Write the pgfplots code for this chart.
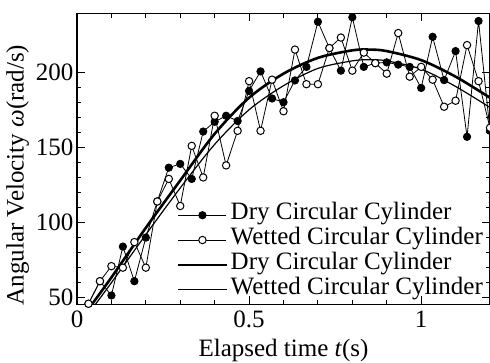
\documentclass[border=0pt]{standalone}
\usepackage{fontspec}
\setmainfont{Liberation Serif}
\usepackage{pgfplots}
\pgfplotsset{compat=1.18}
\newcommand{\bigfont}{\fontsize{25bp}{27bp}\selectfont}
\begin{document}
\begin{tikzpicture}
\useasboundingbox (0,0) rectangle (490bp,363bp);
\begin{axis}[
  at={(77bp,58.5bp)}, anchor=south west,
  width=413bp, height=291bp, scale only axis,
  xmin=0, xmax=1.2, ymin=45.5, ymax=239,
  xtick={0,0.5,1}, ytick={50,100,150,200},
  minor x tick num=4, minor y tick num=4,
  tick align=inside, tick pos=both,
  major tick length=8bp, minor tick length=4.5bp,
  axis line style={line width=1.5bp},
  every tick/.style={black, line width=1bp},
  /pgf/number format/assume math mode=true,
  tick label style={font=\bigfont},
  xticklabel style={yshift=-3bp},
  label style={font=\bigfont},
  xlabel={Elapsed time \textit{t}(s)},
  xlabel style={yshift=-4bp},
  ylabel={Angular Velocity \textit{ω}(rad/s)},
  ylabel style={at={(ticklabel cs:0.445)}},
  legend style={at={(0.242,0.35)}, anchor=north west, draw=none, fill=none,
    font=\bigfont, row sep=0pt, column sep=3bp, inner sep=0pt,
    nodes={inner sep=0pt, text height=17bp, text depth=7.8bp}},
  legend cell align=left,
  legend image code/.code={\draw[mark repeat=2,mark phase=2,#1] plot coordinates {(0bp,0bp) (24bp,0bp) (48bp,0bp)};},
]
\addplot[black, line width=0.8bp, mark=*, mark size=3.7bp, mark options={solid, fill=black}] coordinates {
(0.0333,46) (0.0667,61) (0.1,51.5) (0.1333,84) (0.1667,61) (0.2,90) (0.2333,114)
(0.2667,136.5) (0.3,139) (0.3333,129) (0.3667,160.5) (0.4,167) (0.4333,171)
(0.4667,167.5) (0.5,187.5) (0.5333,200.5) (0.5667,182.5) (0.6,180) (0.6333,194.5)
(0.6667,203.5) (0.7,233.5) (0.7333,216) (0.7667,201) (0.8,236.5) (0.8333,203.5)
(0.8667,206) (0.9,206.5) (0.9333,205) (0.9667,203.5) (1.0,189.5) (1.0333,223.5)
(1.0667,194.7) (1.1,214) (1.1333,157) (1.1667,234) (1.2,161)
};
\addlegendentry{Dry Circular Cylinder}
\addplot[black, line width=0.8bp, mark=*, mark size=3.7bp, mark options={solid, fill=white, draw=black, line width=1bp}] coordinates {
(0.0333,46) (0.0667,61) (0.1,71) (0.1333,70) (0.1667,87) (0.2,70) (0.2333,114)
(0.2667,129) (0.3,111) (0.3333,151) (0.3667,130) (0.4,171) (0.4333,138)
(0.4667,161) (0.5,194) (0.5333,161) (0.5667,195) (0.6,174) (0.6333,215)
(0.6667,192) (0.7,192) (0.7333,216) (0.7667,223) (0.8,201) (0.8333,213)
(0.8667,206) (0.9,199) (0.9333,226) (0.9667,197) (1.0,203.5) (1.0333,195)
(1.0667,177) (1.1,181) (1.1333,218) (1.1667,194) (1.2,163)
};
\addlegendentry{Wetted Circular Cylinder}
\addplot[black, line width=2.6bp, smooth] coordinates {
(0.035,43) (0.1,63.5) (0.2,96.5) (0.3,128) (0.4,159) (0.5,183) (0.6,199)
(0.7,209.5) (0.8,214.5) (0.85,215) (0.9,214) (1.0,208) (1.1,197) (1.2,183)
};
\addlegendentry{Dry Circular Cylinder}
\addplot[black, line width=1.2bp, smooth] coordinates {
(0.045,43) (0.1,60) (0.2,92) (0.3,123) (0.4,152) (0.5,175) (0.6,191)
(0.7,202.5) (0.8,207.5) (0.85,208.3) (0.9,207.5) (1.0,202) (1.1,190.5) (1.2,176.5)
};
\addlegendentry{Wetted Circular Cylinder}
\end{axis}
\end{tikzpicture}
\end{document}
